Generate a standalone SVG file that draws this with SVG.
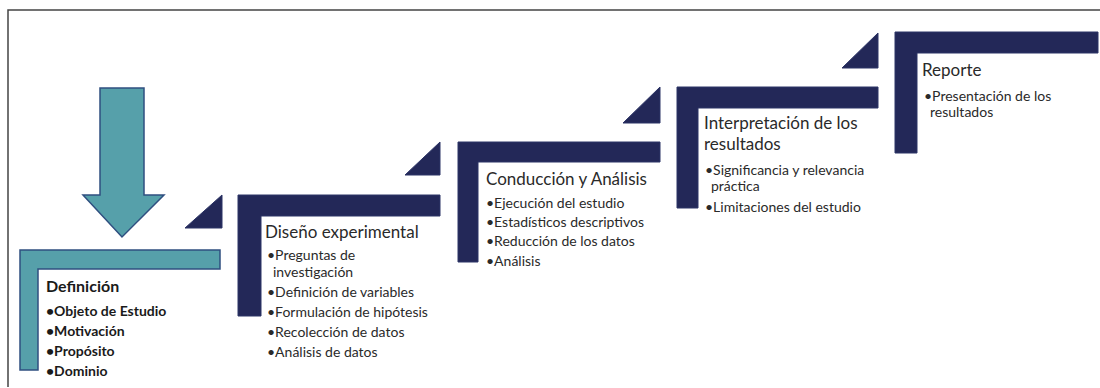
<svg xmlns="http://www.w3.org/2000/svg" width="1100" height="388" viewBox="0 0 1100 388">
<style>
.navy{fill:#232858;stroke:#2c3466;stroke-width:1}
.teal{fill:#56a0aa;stroke:#2f4f80;stroke-width:1.5}
.h{font-family:Lato,"Noto Sans",sans-serif;font-size:17px;fill:#2a2a2a}
.hb{font-family:Lato,"Noto Sans",sans-serif;font-size:16px;font-weight:bold;fill:#1a1a1a}
.t{font-family:Lato,"Noto Sans",sans-serif;font-size:14px;fill:#2a2a2a}
.tb{font-family:Lato,"Noto Sans",sans-serif;font-size:14px;font-weight:bold;fill:#1a1a1a}
</style>
<rect width="1100" height="388" fill="#fff"/>
<path d="M8 387 V10 H1100" fill="none" stroke="#444" stroke-width="1.5"/>
<g id="connectors">
<polygon class="teal" points="100,88 144,88 144,195 164,195 122,237 83,195 100,195"/>
<polygon class="navy" points="185,228 222,195 222,228"/>
<polygon class="navy" points="405,175 440,142 440,175"/>
<polygon class="navy" points="623,123 660,87 660,123"/>
<polygon class="navy" points="842,68 878,33 878,68"/>
</g>
<g id="definicion">
<polygon class="teal" points="20,250 220,250 220,269 38,269 38,370 20,370"/>
<text class="hb" x="46" y="292">Definición</text>
<text class="tb" x="46" y="316">•Objeto de Estudio</text>
<text class="tb" x="46" y="336">•Motivación</text>
<text class="tb" x="46" y="356">•Propósito</text>
<text class="tb" x="46" y="376">•Dominio</text>
</g>
<g id="diseno">
<polygon class="navy" points="238,195 440,195 440,216 261,216 261,316 238,316"/>
<text class="h" x="265" y="238">Diseño experimental</text>
<text class="t" x="267" y="260">•Preguntas de</text>
<text class="t" x="273" y="277">investigación</text>
<text class="t" x="267" y="297">•Definición de variables</text>
<text class="t" x="267" y="317">•Formulación de hipótesis</text>
<text class="t" x="267" y="337">•Recolección de datos</text>
<text class="t" x="267" y="357">•Análisis de datos</text>
</g>
<g id="conduccion">
<polygon class="navy" points="458,142 660,142 660,162 478,162 478,262 458,262"/>
<text class="h" x="486" y="185">Conducción y Análisis</text>
<text class="t" x="486" y="208">•Ejecución del estudio</text>
<text class="t" x="486" y="227">•Estadísticos descriptivos</text>
<text class="t" x="486" y="246">•Reducción de los datos</text>
<text class="t" x="486" y="266">•Análisis</text>
</g>
<g id="interpretacion">
<polygon class="navy" points="677,87 878,87 878,108 698,108 698,208 677,208"/>
<text class="h" x="704" y="129">Interpretación de los</text>
<text class="h" x="704" y="150">resultados</text>
<text class="t" x="705" y="175">•Significancia y relevancia</text>
<text class="t" x="711" y="191">práctica</text>
<text class="t" x="705" y="212">•Limitaciones del estudio</text>
</g>
<g id="reporte">
<polygon class="navy" points="895,32 1098,32 1098,53 917,53 917,153 895,153"/>
<text class="h" x="922" y="76">Reporte</text>
<text class="t" x="924" y="101">•Presentación de los</text>
<text class="t" x="930" y="117">resultados</text>
</g>
</svg>
